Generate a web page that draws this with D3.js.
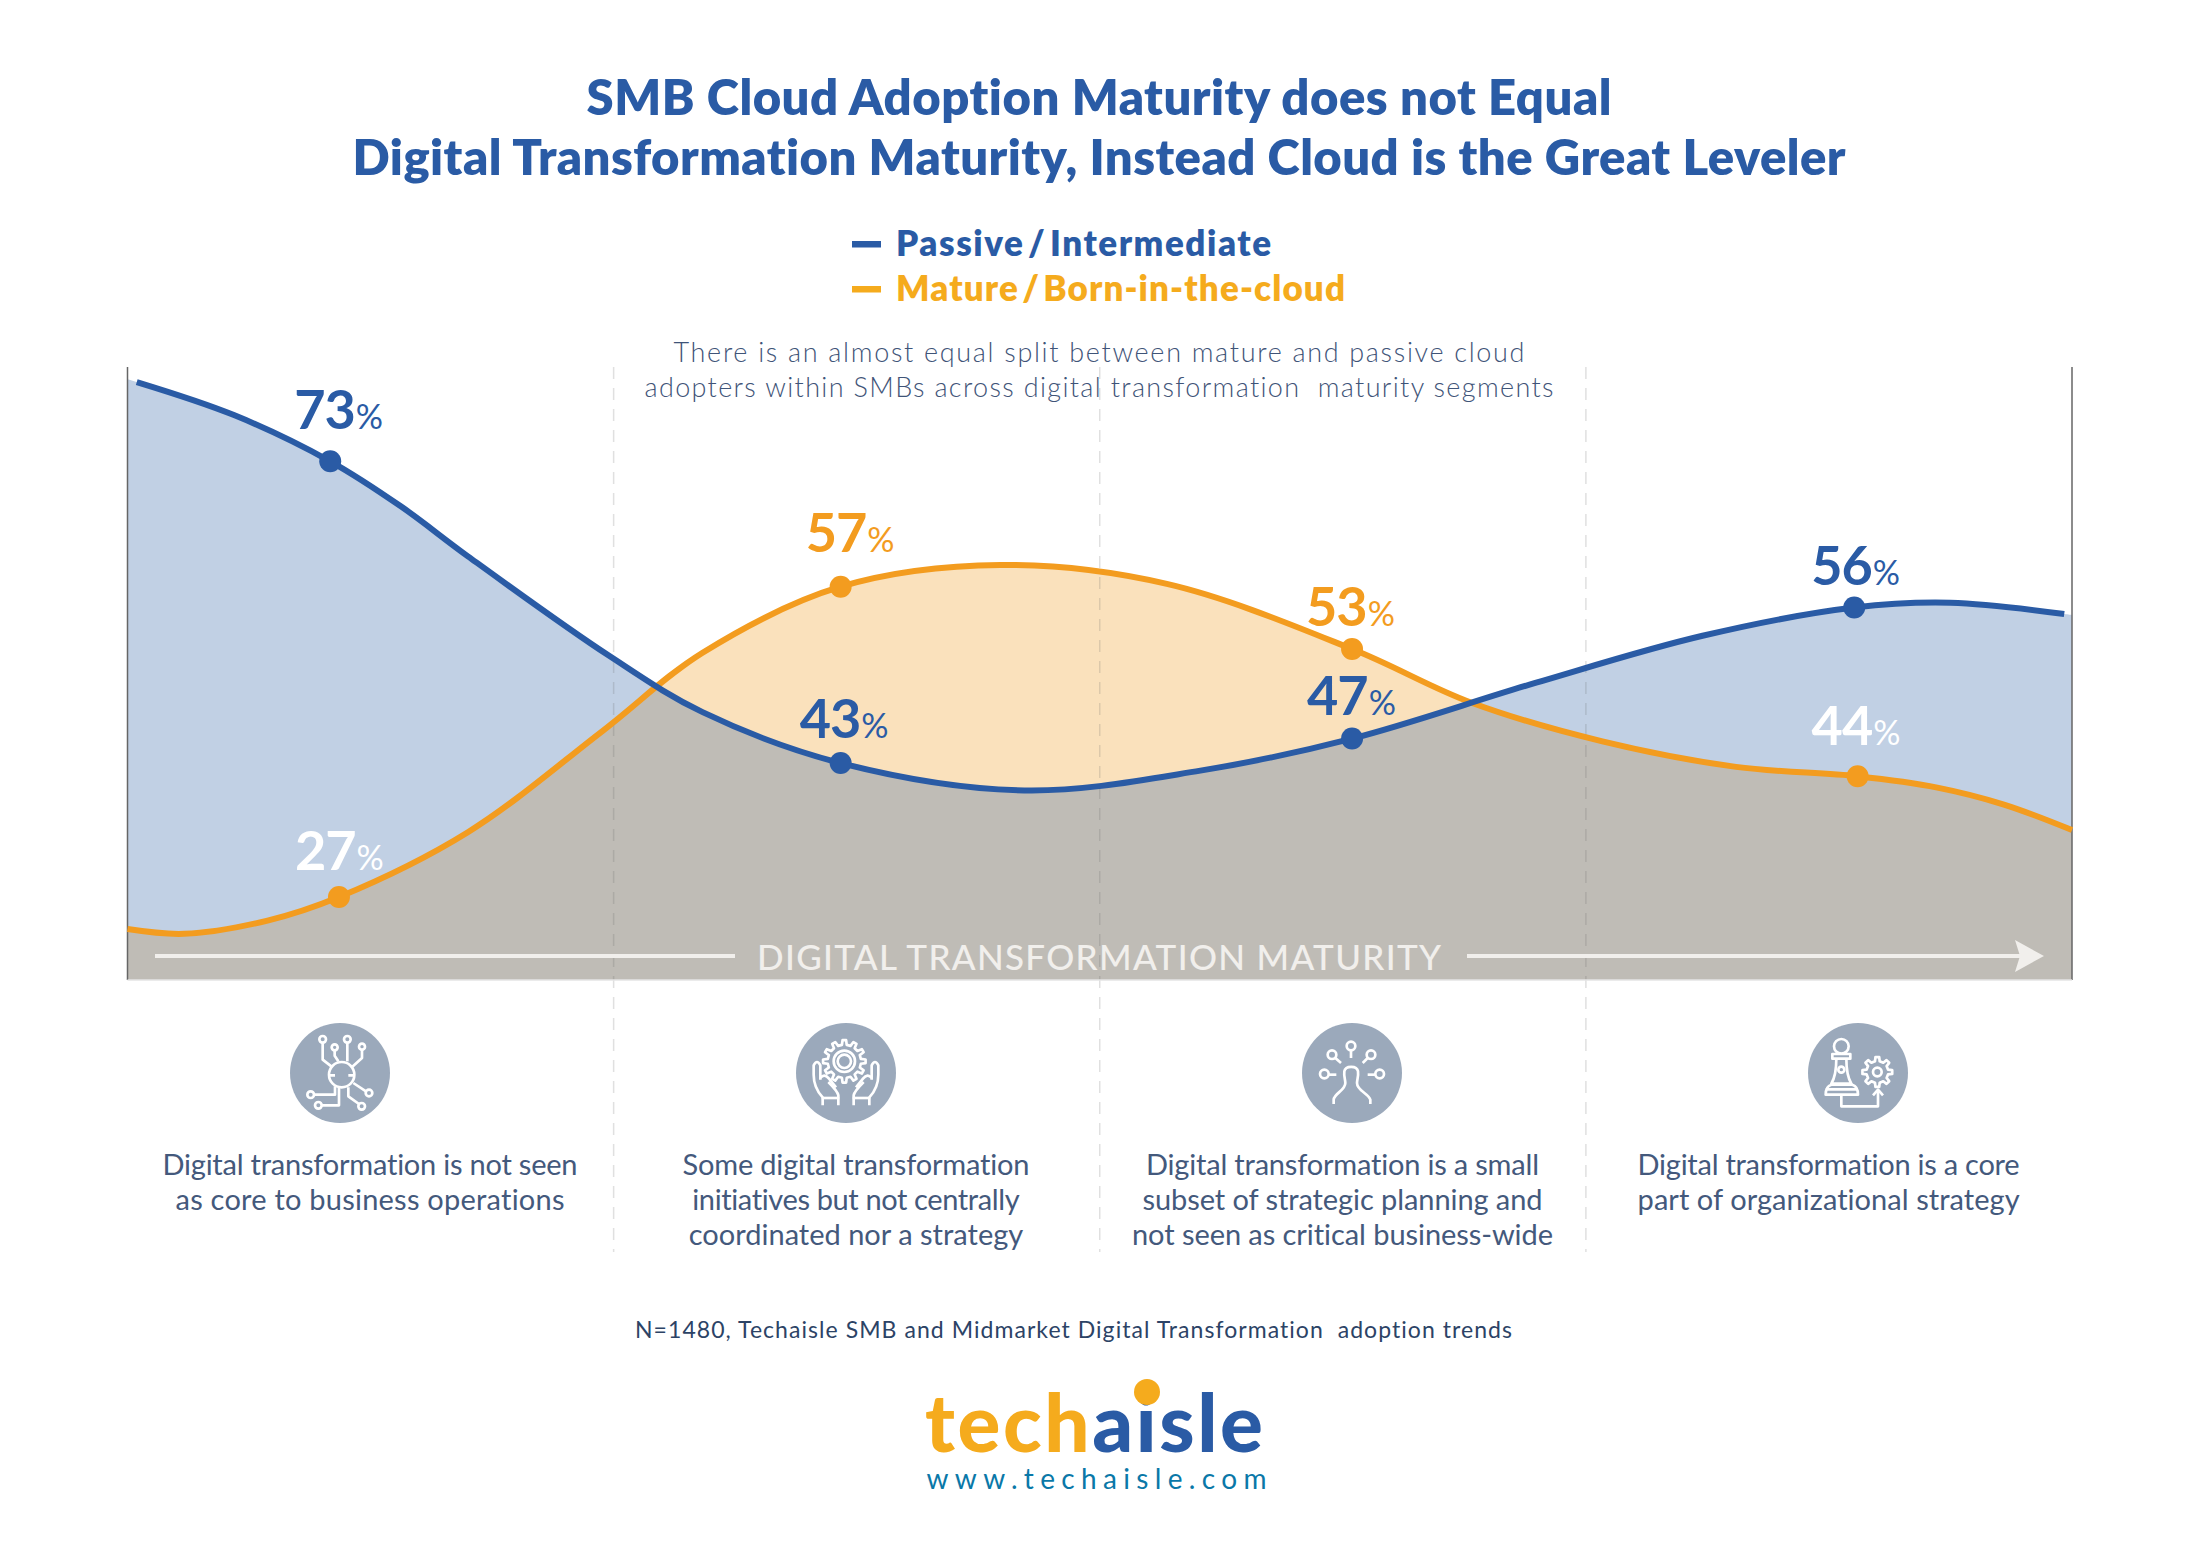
<!DOCTYPE html>
<html>
<head>
<meta charset="utf-8">
<title>SMB Cloud Adoption Maturity</title>
<script src="https://cdn.jsdelivr.net/npm/d3@7"></script>
<style>
  html, body { margin: 0; padding: 0; background: #fff; }
  svg { display: block; }
  text { font-family: Lato, "Open Sans", sans-serif; font-variant-ligatures: none; }
</style>
</head>
<body>
<svg id="chart" width="2199" height="1544"></svg>
<script>
// curves: x is position along the four maturity segments, y is the plotted level
const passiveX = [0, .019, .219, .417, .563, .701, .990, 1.183, 1.467, 1.845, 2.207, 2.519, 2.896, 3.240, 3.552, 3.750, 3.984, 4];
const passiveY = [81.7, 81.4, 77.9, 73.0, 68.2, 62.9, 52.4, 46.4, 41.0, 38.1, 40.2, 43.6, 49.5, 54.5, 57.5, 58.0, 56.8, 56.7];
const matureX = [0, .116, .288, .435, .701, .977, 1.183, 1.467, 1.796, 2.138, 2.519, 2.765, 3.034, 3.309, 3.559, 3.723, 3.860, 4];
const matureY = [23.4, 22.9, 24.3, 26.8, 33.7, 44.4, 52.7, 59.7, 62.0, 60.0, 53.1, 47.4, 43.3, 40.6, 39.6, 38.4, 36.6, 33.9];

// labelled points, index into the curve arrays above
const passivePoints = [3, 8, 11, 14];
const maturePoints = [3, 7, 10, 14];
const passiveLabels = [73, 43, 47, 56];
const matureLabels = [27, 57, 53, 44];

const titleLines = ["SMB Cloud Adoption Maturity does not Equal", "Digital Transformation Maturity, Instead Cloud is the Great Leveler"];
const legendLabels = ["Passive / Intermediate", "Mature / Born-in-the-cloud"];
const noteLines = ["There is an almost equal split between mature and passive cloud", "adopters within SMBs across digital transformation  maturity segments"];
const axisLabel = "DIGITAL TRANSFORMATION MATURITY";
const segmentText = [
  ["Digital transformation is not seen", "as core to business operations"],
  ["Some digital transformation", "initiatives but not centrally", "coordinated nor a strategy"],
  ["Digital transformation is a small", "subset of strategic planning and", "not seen as critical business-wide"],
  ["Digital transformation is a core", "part of organizational strategy"]
];
const footnote = "N=1480, Techaisle SMB and Midmarket Digital Transformation  adoption trends";

const BLUE = "#2a5ba5", ORANGE = "#f39c1f", GOLD = "#f5ab1d";
const svg = d3.select("#chart");

const x = d3.scaleLinear().domain([0, 4]).range([127.5, 2072]);
const y = d3.scaleLinear().domain([18, 83]).range([980, 367]);

const passive = passiveX.map((v, i) => [v, passiveY[i]]);
const mature = matureX.map((v, i) => [v, matureY[i]]);

const line = d3.line().x(d => x(d[0])).y(d => y(d[1])).curve(d3.curveCatmullRom);
const area = d3.area().x(d => x(d[0])).y0(y(18)).y1(d => y(d[1])).curve(d3.curveCatmullRom);

// fills, overlap is the mature area clipped to the passive one
svg.append("clipPath").attr("id", "passiveClip").append("path").attr("d", area(passive));
svg.append("path").attr("d", area(passive)).attr("fill", "#c1d0e4");
svg.append("path").attr("d", area(mature)).attr("fill", "#fae1bc");
svg.append("path").attr("d", area(mature)).attr("fill", "#bfbcb6").attr("clip-path", "url(#passiveClip)");

// segment dividers
svg.selectAll(".divider").data([1, 2, 3]).enter().append("line")
  .attr("class", "divider")
  .attr("x1", d => x(d)).attr("x2", d => x(d))
  .attr("y1", 367).attr("y2", 1252)
  .attr("stroke", "#666").attr("stroke-opacity", .2)
  .attr("stroke-width", 1.5).attr("stroke-dasharray", "12 9");

// frame
svg.selectAll(".edge").data([0, 4]).enter().append("line")
  .attr("class", "edge")
  .attr("x1", d => x(d)).attr("x2", d => x(d))
  .attr("y1", 367).attr("y2", 980)
  .attr("stroke", "#666").attr("stroke-width", 1.5);
svg.append("line").attr("x1", x(0)).attr("x2", x(4)).attr("y1", 980).attr("y2", 980)
  .attr("stroke", "#e4e4e4").attr("stroke-width", 1.5);

// curves
svg.append("path").attr("d", line(mature)).attr("fill", "none").attr("stroke", ORANGE).attr("stroke-width", 6);
svg.append("path").attr("d", line(passive.slice(1, -1))).attr("fill", "none").attr("stroke", BLUE).attr("stroke-width", 6);

// markers and value labels
const labelOffsets = {
  passive: [[-36, -32], [-41, -25], [-45, -24], [-43, -22]],
  mature: [[-44, -27], [-35, -34.5], [-46, -23], [-46, -31]]
};
const labelFill = { passive: [BLUE, BLUE, BLUE, BLUE], mature: ["#fff", ORANGE, ORANGE, "#fff"] };

function drawPoints(name, curve, points, labels, color) {
  const rows = points.map((p, i) => ({ pos: curve[p], label: labels[i], off: labelOffsets[name][i], fill: labelFill[name][i] }));
  svg.selectAll(".dot-" + name).data(rows).enter().append("circle")
    .attr("class", "dot-" + name)
    .attr("cx", d => x(d.pos[0])).attr("cy", d => y(d.pos[1]))
    .attr("r", 11).attr("fill", color);
  const t = svg.selectAll(".lab-" + name).data(rows).enter().append("text")
    .attr("class", "lab-" + name)
    .attr("x", d => x(d.pos[0]) + d.off[0]).attr("y", d => y(d.pos[1]) + d.off[1])
    .attr("fill", d => d.fill);
  t.append("tspan").attr("font-size", 54).attr("font-weight", 700).attr("letter-spacing", -1).text(d => d.label);
  t.append("tspan").attr("font-size", 34).attr("dx", 1).text("%");
}
drawPoints("mature", mature, maturePoints, matureLabels, ORANGE);
drawPoints("passive", passive, passivePoints, passiveLabels, BLUE);

// axis band
const BAND = "#f1efec";
svg.append("text").attr("x", 1099).attr("y", 969.5).attr("text-anchor", "middle")
  .attr("font-size", 35).attr("font-weight", 500).attr("fill", BAND).attr("textLength", 684).text(axisLabel);
svg.append("line").attr("x1", 155).attr("x2", 735).attr("y1", 956).attr("y2", 956).attr("stroke", BAND).attr("stroke-width", 4);
svg.append("line").attr("x1", 1467).attr("x2", 2020).attr("y1", 956).attr("y2", 956).attr("stroke", BAND).attr("stroke-width", 4);
svg.append("path").attr("d", "M2015,940L2044,956L2015,972L2020,956Z").attr("fill", BAND);

// title, legend and note
const titleWidths = [1025, 1493];
svg.selectAll(".title").data(titleLines).enter().append("text")
  .attr("class", "title")
  .attr("x", 1099).attr("y", (d, i) => 115 + i * 60)
  .attr("text-anchor", "middle")
  .attr("font-size", 49).attr("font-weight", 800).attr("fill", BLUE)
  .attr("textLength", (d, i) => titleWidths[i])
  .text(d => d);

const legendColors = [BLUE, GOLD];
const legendWidths = [375, 449];
legendLabels.forEach((d, i) => {
  svg.append("rect").attr("x", 852).attr("y", 241 + i * 45).attr("width", 29).attr("height", 6.5).attr("fill", legendColors[i]);
  svg.append("text").attr("x", 896).attr("y", 256 + i * 45)
    .attr("font-size", 35).attr("font-weight", 800).attr("word-spacing", -6).attr("fill", legendColors[i])
    .attr("textLength", legendWidths[i]).text(d);
});

const noteWidths = [851, 909];
svg.selectAll(".note").data(noteLines).enter().append("text")
  .attr("class", "note")
  .attr("x", 1099).attr("y", (d, i) => 362 + i * 35)
  .attr("text-anchor", "middle").attr("xml:space", "preserve")
  .attr("font-size", 27).attr("font-weight", 300).attr("fill", "#3f5478")
  .attr("textLength", (d, i) => noteWidths[i])
  .text(d => d);

// icons, drawn in a 330 unit box centred on each disc
const iconCenters = [340, 846, 1352, 1858];

function gear(cx, cy, r0, r1, teeth) {
  const pts = [];
  d3.range(teeth).forEach(i => {
    const a = i * 2 * Math.PI / teeth, w = Math.PI / teeth;
    [[r0, -w * .55], [r1, -w * .32], [r1, w * .32], [r0, w * .55]].forEach(p => {
      pts.push([cx + p[0] * Math.cos(a + p[1]), cy + p[0] * Math.sin(a + p[1])]);
    });
  });
  return "M" + pts.join("L") + "Z";
}

const iconPaths = [
  ["M132,172H150M190,172H208", "M113,74V125L140,146", "M149,97V113L160,130", "M187,74V130", "M231,95V120L202,146",
   "M87,230H150V205", "M110,262H162V210", "M243,220L205,195", "M222,258L190,235V208"],
  ["M95,262V238C78,220 68,200 68,170V142Q78,122 88,142V185", "M88,180Q100,165 114,182L135,208", "M142,262V232C140,220 125,205 112,192", "M92,240H145",
   "M235,262V238C252,220 262,200 262,170V142Q252,122 242,142V185", "M242,180Q230,165 216,182L195,208", "M188,262V232C190,220 205,205 218,192", "M238,240H185",
   gear(160, 130, 50, 64, 12)],
  ["M110,258V245C112,225 145,218 145,195C145,185 140,175 142,160C145,142 180,142 183,160C185,175 180,185 180,195C180,218 213,225 220,245V258",
   "M162,97V120", "M115,120L132,135", "M212,120L197,135", "M95,170H118", "M235,170H212"],
  ["M100,122C100,160 95,180 85,197H145C135,180 130,160 130,122", "M88,108H142V122H88Z", "M68,230Q68,205 85,200H148Q165,205 165,230Z", "M68,214H165",
   "M115,232V265H225V218", "M210,232L225,215L240,232", gear(223, 162, 33, 45, 8)]
];
const iconCircles = [
  [[170, 170, 38], [113, 64, 10], [149, 88, 9], [187, 64, 10], [231, 86, 9], [77, 230, 10], [100, 262, 10], [252, 225, 10], [230, 265, 10]],
  [[160, 130, 32], [160, 130, 20]],
  [[162, 84, 13], [105, 110, 13], [222, 110, 13], [82, 168, 13], [248, 168, 13]],
  [[115, 85, 22], [115, 155, 9], [223, 162, 13]]
];

iconCenters.forEach((cx, i) => {
  svg.append("circle").attr("cx", cx).attr("cy", 1073).attr("r", 50).attr("fill", "#9ba9bb");
  const g = svg.append("g").attr("transform", `translate(${cx - 55},${1073 - 55}) scale(${1 / 3})`)
    .attr("fill", "none").attr("stroke", "#fff").attr("stroke-width", 8).attr("stroke-linejoin", "round");
  g.selectAll("path").data(iconPaths[i]).enter().append("path").attr("d", d => d);
  g.selectAll("circle").data(iconCircles[i]).enter().append("circle")
    .attr("cx", d => d[0]).attr("cy", d => d[1]).attr("r", d => d[2]);
});

// segment descriptions
const segmentCenters = [370, 856, 1342.5, 1828.6];
const segmentWidths = [[415, 389], [347, 327.5, 334.5], [393, 400, 421], [382, 382]];
segmentText.forEach((rows, i) => {
  rows.forEach((row, j) => {
    svg.append("text").attr("x", segmentCenters[i]).attr("y", 1175 + j * 35.2)
      .attr("text-anchor", "middle").attr("font-size", 29).attr("fill", "#44597c")
      .attr("textLength", segmentWidths[i][j]).text(row);
  });
});

// footer
svg.append("text").attr("x", 1073.5).attr("y", 1337.5).attr("text-anchor", "middle").attr("xml:space", "preserve")
  .attr("font-size", 23).attr("fill", "#2c4366").attr("textLength", 877).text(footnote);

const logo = svg.append("text").attr("x", 925).attr("y", 1451.5)
  .attr("font-size", 80).attr("font-weight", 900).attr("textLength", 338);
logo.append("tspan").attr("fill", GOLD).text("tech");
logo.append("tspan").attr("fill", BLUE).text("aisle");
svg.append("circle").attr("cx", 1147).attr("cy", 1392).attr("r", 13).attr("fill", GOLD);

svg.append("text").attr("x", 926.5).attr("y", 1488.5)
  .attr("font-size", 28).attr("fill", "#0a78a8").attr("textLength", 340).text("www.techaisle.com");
</script>
</body>
</html>
